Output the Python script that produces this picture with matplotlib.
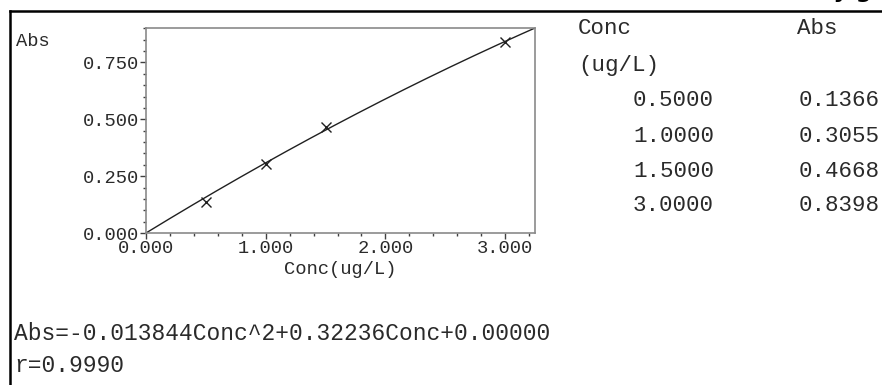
import numpy as np
import matplotlib.pyplot as plt
from matplotlib.ticker import MultipleLocator, FormatStrFormatter
from matplotlib.lines import Line2D

# calibration standards
conc = [0.5, 1.0, 1.5, 3.0]
absorb = [0.1366, 0.3055, 0.4668, 0.8398]

# quadratic fit shown under the plot
coef = [-0.013844, 0.32236, 0.00000]
r_value = 0.9990

x_ticks = [0.0, 1.0, 2.0, 3.0]
y_ticks = [0.0, 0.25, 0.5, 0.75]

FONT = 'Liberation Mono'
TXT = '#2a2a2a'
W, H = 882, 385


def fx(px):
    return px / W


def fy(py):
    return 1 - py / H


def main():
    fig = plt.figure(figsize=(8.82, 3.85), dpi=100)
    fig.patch.set_facecolor('white')

    ax = fig.add_axes([fx(146), fy(233), fx(535 - 146), (233 - 28) / H])
    xmax = 3.25
    xs = np.linspace(0, xmax, 200)
    ax.plot(xs, np.polyval(coef, xs), color='#202020', lw=1.0)
    ax.plot(conc, absorb, 'x', color='#202020', ms=7, mew=1.0)
    ax.set_xlim(0, xmax)
    ax.set_ylim(0, np.polyval(coef, xmax))

    ax.set_xticks(x_ticks)
    ax.set_yticks(y_ticks)
    ax.xaxis.set_minor_locator(MultipleLocator(0.2))
    ax.yaxis.set_minor_locator(MultipleLocator(0.05))
    ax.xaxis.set_major_formatter(FormatStrFormatter('%.3f'))
    ax.yaxis.set_major_formatter(FormatStrFormatter('%.3f'))
    ax.tick_params(which='major', direction='out', length=4, width=1,
                   color='#404040', labelsize=13.5, labelcolor=TXT, pad=1)
    ax.tick_params(which='minor', direction='out', length=2, width=1,
                   color='#404040')
    for lab in ax.get_xticklabels() + ax.get_yticklabels():
        lab.set_fontfamily(FONT)
    for s in ax.spines.values():
        s.set_color('#8a8a8a')
        s.set_linewidth(1.2)

    fig.text(fx(340), fy(270), 'Conc(ug/L)', family=FONT, fontsize=13.5,
             color=TXT, ha='center', va='center')
    fig.text(fx(16), fy(42), 'Abs', family=FONT, fontsize=13.5,
             color=TXT, ha='left', va='center')

    # table on the right
    fig.text(fx(578), fy(28), 'Conc', family=FONT, fontsize=16.2,
             color=TXT, va='center')
    fig.text(fx(797), fy(28), 'Abs', family=FONT, fontsize=16.2,
             color=TXT, va='center')
    fig.text(fx(578), fy(65), '(ug/L)', family=FONT, fontsize=16.2,
             color=TXT, va='center')
    rows_y = [100, 137, 172, 206]
    for c, a, py in zip(conc, absorb, rows_y):
        fig.text(fx(714), fy(py), '%.4f' % c, family=FONT, fontsize=16.2,
                 color=TXT, ha='right', va='center')
        fig.text(fx(799), fy(py), '%.4f' % a, family=FONT, fontsize=16.2,
                 color=TXT, ha='left', va='center')

    eq = 'Abs=%.6fConc^2+%.5fConc+%.5f' % tuple(coef)
    fig.text(fx(14), fy(334), eq, family=FONT, fontsize=16.5, color=TXT,
             va='center')
    fig.text(fx(14), fy(365), 'r=%.4f' % r_value, family=FONT, fontsize=16.5,
             color=TXT, va='center')

    # frame lines and the heading, cut by the top edge as in the source
    fig.add_artist(Line2D([fx(10), 1], [fy(11), fy(11)], color='black',
                          lw=1.8, transform=fig.transFigure))
    fig.add_artist(Line2D([fx(10), fx(10)], [fy(11), 0], color='black',
                          lw=1.8, transform=fig.transFigure))
    fig.text(fx(872), fy(-2), 'Curve by g', fontsize=16, weight='bold',
             color='black', ha='right', va='baseline')

    fig.savefig('out.png', dpi=100, facecolor='white')


if __name__ == "__main__":
    main()
